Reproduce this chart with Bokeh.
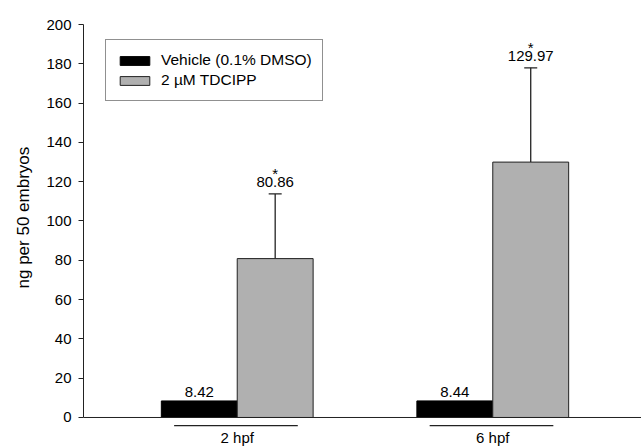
from bokeh.plotting import figure
from bokeh.models import (ColumnDataSource, Range1d, FixedTicker, Span, Whisker,
                          TeeHead, Legend, LegendItem, Title)
from bokeh.core.properties import value
from bokeh.embed import file_html
from bokeh.resources import INLINE

# ---- data ----
groups = ["2 hpf", "6 hpf"]
vehicle = [8.42, 8.44]
tdcipp = [80.86, 129.97]
tdcipp_err = [32.9, 48.0]
significance = ["*", "*"]
yticks = [0, 20, 40, 60, 80, 100, 120, 140, 160, 180, 200]
series_names = ["Vehicle (0.1% DMSO)", "2 \u00b5M TDCIPP"]
y_title = "ng per 50 embryos"

FONT = "Liberation Sans"
GRAY = "#b0b0b0"

centers = [i + 1 for i in range(len(groups))]
bw = 0.297
half = bw / 2

veh_src = ColumnDataSource(dict(
    x=[c - half for c in centers], top=vehicle,
    lab=["%.2f" % v for v in vehicle]))
tdc_src = ColumnDataSource(dict(
    x=[c + half for c in centers], top=tdcipp,
    upper=[t + e for t, e in zip(tdcipp, tdcipp_err)],
    lab=["%.2f" % v for v in tdcipp], sig=significance))
grp_src = ColumnDataSource(dict(
    x=centers, x0=[c - 0.247 for c in centers], x1=[c + 0.237 for c in centers],
    name=groups))

p = figure(width=641, height=446, output_backend="svg", toolbar_location=None,
           x_range=Range1d(0.3984, 2.582), y_range=Range1d(-14.76, 200),
           x_axis_location=None, min_border_left=82, min_border_right=0,
           min_border_top=24, min_border_bottom=0)
p.outline_line_color = None
p.xgrid.visible = False
p.ygrid.visible = False
p.background_fill_color = "white"

yax = p.yaxis[0]
yax.bounds = (0, 200)
yax.ticker = FixedTicker(ticks=yticks)
yax.minor_tick_line_color = None
yax.major_tick_out = 5
yax.major_tick_in = 0
yax.axis_line_color = "#222222"
yax.major_tick_line_color = "#222222"
yax.major_label_text_font = FONT
yax.major_label_text_font_size = "15px"
yax.major_label_text_color = "black"
yax.major_label_standoff = 7

# y-axis title as a side title, shifted to sit beside the 0-200 span
p.add_layout(Title(text=y_title, align="left", offset=158, standoff=22,
                   text_font=FONT, text_font_size="17px", text_font_style="normal",
                   text_color="black"), "left")

# x axis line at zero
p.add_layout(Span(location=0, dimension="width", line_color="#222222", line_width=1))

r1 = p.vbar(x="x", top="top", bottom=0, width=bw, source=veh_src,
            fill_color="black", line_color="black", line_width=1)
r2 = p.vbar(x="x", top="top", bottom=0, width=bw, source=tdc_src,
            fill_color=GRAY, line_color="#222222", line_width=1)

w = Whisker(base="x", lower="top", upper="upper", source=tdc_src, dimension="height",
            line_color="#222222", line_width=1.3,
            upper_head=TeeHead(size=13, line_color="#222222", line_width=1.3),
            lower_head=None, level="underlay")
p.add_layout(w)

# value labels
p.text(x="x", y="top", text="lab", source=veh_src, text_align="center",
       text_baseline="bottom", y_offset=-4, text_font=value(FONT),
       text_font_size="15px", text_color="black")
p.text(x="x", y="upper", text="lab", source=tdc_src, text_align="center",
       text_baseline="bottom", y_offset=-7, text_font=value(FONT),
       text_font_size="15px", text_color="black")
p.text(x="x", y="upper", text="sig", source=tdc_src, text_align="center",
       text_baseline="bottom", y_offset=-12, text_font=value(FONT),
       text_font_size="15px", text_color="black")

# group underlines and labels
p.segment(x0="x0", x1="x1", y0=-4.1, y1=-4.1, source=grp_src,
          line_color="#222222", line_width=1.3)
p.text(x="x", y=-12.7, text="name", source=grp_src, text_align="center",
       text_baseline="alphabetic", y_offset=-5, text_font=value(FONT),
       text_font_size="15px", text_color="black")

legend = Legend(items=[LegendItem(label=series_names[0], renderers=[r1]),
                       LegendItem(label=series_names[1], renderers=[r2])],
                location=(22, 345), margin=0, padding=10, spacing=0,
                label_height=20, glyph_height=11, glyph_width=37,
                label_standoff=8, label_text_font=FONT,
                label_text_font_size="15.5px", label_text_color="black",
                border_line_color="#222222", border_line_width=1,
                background_fill_alpha=1)
p.add_layout(legend, "center")

open("out.html", "w").write(file_html(p, INLINE))
